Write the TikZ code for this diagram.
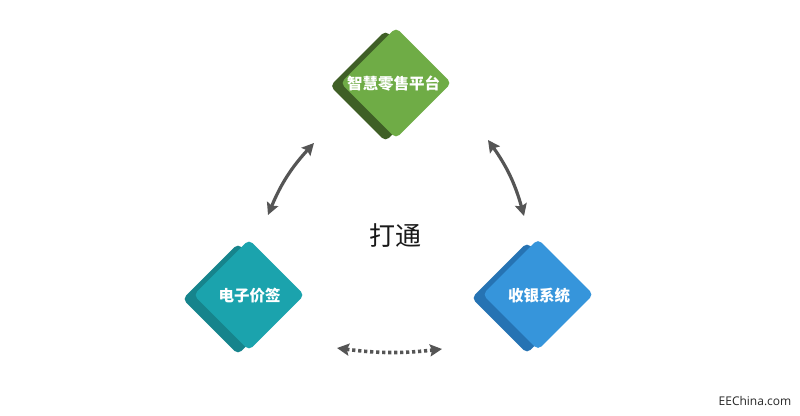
\documentclass[tikz,border=0pt]{standalone}
\usepackage{fontspec}
\setmainfont{Open Sans}
\newfontfamily\cjk{Noto Sans CJK SC}
\usetikzlibrary{shapes.geometric,arrows.meta}
\definecolor{greenF}{HTML}{6FAC46}
\definecolor{greenB}{HTML}{3F5F26}
\definecolor{tealF}{HTML}{1BA3AD}
\definecolor{tealB}{HTML}{16848C}
\definecolor{blueF}{HTML}{3695DB}
\definecolor{blueB}{HTML}{2673B3}
\definecolor{arrowgrey}{HTML}{555555}
\tikzset{
  tile/.style={shape=diamond,aspect=1,inner sep=0pt,minimum width=#1,minimum height=#1,rounded corners=5pt,draw=none},
  tilelabel/.style={text=white,font=\cjk\bfseries\fontsize{15.5pt}{16pt}\selectfont,inner sep=0pt},
  link/.style={draw=arrowgrey,line width=3.2pt,{Stealth[length=12pt,width=12pt,inset=2pt]}-{Stealth[length=12pt,width=12pt,inset=2pt]}},
  dottedlink/.style={draw=arrowgrey,line width=3.6pt,dash pattern=on 3.2pt off 2.8pt,{Stealth[length=12pt,width=12pt,inset=2pt]}-{Stealth[length=12pt,width=12pt,inset=2pt]}}
}
\begin{document}
\begin{tikzpicture}[x=1pt,y=-1pt]
\useasboundingbox (0,0) rectangle (800,415);
\fill[white] (0,0) rectangle (800,415);
% top
\node[tile=111pt,fill=greenB] (topback) at (385.5,86) {};
\node[tile=111pt,fill=greenF] (topfront) at (396,83) {};
\node[tilelabel] (toplabel) at (393.5,84) {智慧零售平台};
% left
\node[tile=111pt,fill=tealB] (leftback) at (238,299) {};
\node[tile=111pt,fill=tealF] (leftfront) at (249,295) {};
\node[tilelabel] (leftlabel) at (249.5,296) {电子价签};
% right
\node[tile=111pt,fill=blueB] (rightback) at (527,298) {};
\node[tile=111pt,fill=blueF] (rightfront) at (538,294.5) {};
\node[tilelabel] (rightlabel) at (539,296) {收银系统};
% centre
\node[font=\cjk\fontsize{26pt}{28pt}\selectfont,text=black!90,inner sep=0pt] (centre) at (395.5,236) {打通};
\node[font=\fontsize{12pt}{14pt}\selectfont,text=black!85,inner sep=0pt] (mark) at (755,401) {EEChina.com};
% connector ends
\coordinate (a1) at (314,143);
\coordinate (a2) at (268,215);
\coordinate (b1) at (488,140);
\coordinate (b2) at (524,216);
\coordinate (c1) at (337,348);
\coordinate (c2) at (442,349);
\draw[link] (a1) to[bend right=10] (a2);
\draw[link] (b1) to[bend left=10] (b2);
\draw[dottedlink] (c1) to[bend right=7] (c2);
\end{tikzpicture}
\end{document}
